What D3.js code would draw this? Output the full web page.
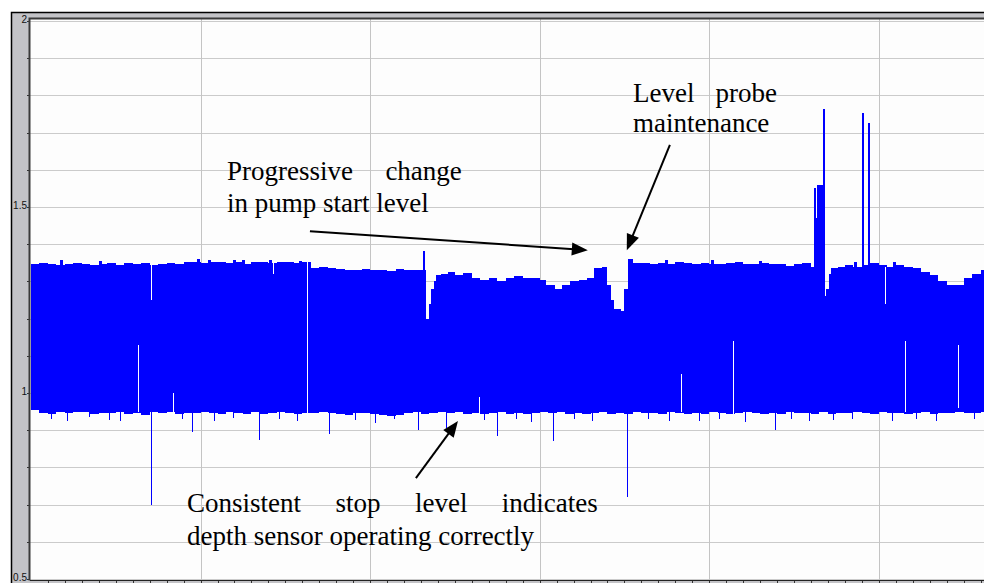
<!DOCTYPE html>
<html>
<head>
<meta charset="utf-8">
<script src="https://cdn.jsdelivr.net/npm/d3@7"></script>
<style>
  body { margin: 0; background: #fff; }
  svg { display: block; }
</style>
</head>
<body>
<div id="chart"></div>
<script>
// y axis: a tick every 0.1, labels only on the half units
var yTicks = [0.5, 0.6, 0.7, 0.8, 0.9, 1.0, 1.1, 1.2, 1.3, 1.4, 1.5, 1.6, 1.7, 1.8, 1.9, 2.0];
var yLabelValues = [0.5, 1.0, 1.5, 2.0];
var yLabelText = ["0.5", "1", "1.5", "2"];

// x axis (time, no labels): grid every 10, minor tick every 1
var xGrid = [10, 20, 30, 40, 50];
var xMinor = [1,2,3,4,5,6,7,8,9,11,12,13,14,15,16,17,18,19,21,22,23,24,25,26,27,28,29,
  31,32,33,34,35,36,37,38,39,41,42,43,44,45,46,47,48,49,51,52,53,54,55,56];

// pump start level (upper edge of the band)
var topT = [0,0.5,1,1.5,2,2.5,3,3.5,4,4.5,5,5.5,6,6.5,7,7.5,8,8.5,9,9.5,
  10,10.5,11,11.5,12,12.5,13,13.5,14,14.5,15,15.5,16,16.5,17,17.5,18,18.5,19,19.5,
  20,20.5,21,21.5,22,22.5,
  23.1,23.3,23.45,23.6,23.75,23.9,24.2,24.6,25,25.5,26,26.5,27,27.5,28,28.5,29,29.5,
  30,30.4,30.9,31.3,31.8,32.3,32.8,33.2,33.7,34.0,34.2,34.4,34.8,35.0,35.2,35.5,
  36,36.5,37,37.5,38,38.5,39,39.5,40,40.5,41,41.5,42,42.5,43,43.5,44,44.5,45,45.5,46,
  46.2,46.35,46.8,46.9,47.05,47.2,47.6,48,48.5,49,49.5,50,50.5,51,51.5,52,52.5,53,53.5,
  54,54.5,55,55.5,56,56.5];
var topLevel = [1.348,1.35,1.348,1.345,1.348,1.35,1.348,1.345,1.348,1.35,
  1.345,1.35,1.348,1.35,1.345,1.348,1.35,1.348,1.352,1.352,
  1.35,1.352,1.352,1.35,1.352,1.348,1.352,1.352,1.35,1.352,
  1.352,1.35,1.352,1.337,1.338,1.337,1.332,1.33,1.33,1.332,
  1.33,1.33,1.328,1.332,1.33,1.33,
  1.33,1.20,1.24,1.28,1.30,1.318,1.32,1.325,1.318,1.322,
  1.31,1.305,1.31,1.302,1.31,1.315,1.308,1.31,1.305,1.29,
  1.28,1.29,1.30,1.305,1.31,1.335,1.338,1.29,1.25,1.225,
  1.22,1.28,1.36,1.35,
  1.35,1.348,1.35,1.348,1.352,1.35,1.348,1.35,1.348,1.346,
  1.35,1.352,1.348,1.346,1.35,1.348,1.346,1.342,1.346,1.35,1.34,
  1.55,1.56,1.26,1.28,1.32,1.335,1.34,1.345,1.34,1.345,
  1.35,1.345,1.34,1.345,1.338,1.335,1.325,1.318,1.30,1.29,
  1.29,1.31,1.32,1.33,1.33];

// short readings just above the start level
var topTeethT = [1.8, 4.1, 9.9, 10.5, 12.0, 12.56, 14.1, 15.9, 37.5, 40.2, 43.0, 48.6, 50.9];
var topTeethV = [1.358, 1.355, 1.36, 1.358, 1.358, 1.358, 1.358, 1.356, 1.358, 1.358, 1.356, 1.352, 1.352];

// pump stop level (lower edge of the band), one reading per half unit from t = 0
var bottomStep = 0.5;
var bottomLevel = [0.955,0.946,0.944,0.948,0.945,0.948,0.95,0.944,0.946,0.945,
  0.95,0.944,0.946,0.942,0.948,0.946,0.95,0.944,0.946,0.945,
  0.948,0.946,0.944,0.95,0.946,0.944,0.948,0.944,0.946,0.95,
  0.946,0.944,0.946,0.945,0.95,0.946,0.944,0.942,0.945,0.946,
  0.944,0.94,0.938,0.942,0.946,0.948,0.944,0.946,0.95,0.946,
  0.948,0.944,0.946,0.944,0.946,0.948,0.944,0.946,0.944,0.946,
  0.948,0.946,0.95,0.944,0.946,0.944,0.946,0.948,0.944,0.946,
  0.944,0.948,0.946,0.946,0.944,0.95,0.946,0.944,0.946,0.944,
  0.948,0.946,0.944,0.946,0.95,0.946,0.944,0.946,0.944,0.948,
  0.946,0.946,0.944,0.948,0.944,0.946,0.946,0.95,0.946,0.944,
  0.948,0.946,0.946,0.944,0.946,0.948,0.944,0.946,0.946,0.95,
  0.946,0.946,0.948,0.946];

// short gaps inside the band (white)
var gapT    = [6.3, 7.08, 8.4, 14.27, 16.3, 26.4, 38.33, 41.39, 46.3, 50.35, 51.53, 54.66];
var gapHigh = [1.13, 1.35, 1.0, 1.352, 1.352, 0.99, 1.05, 1.14, 1.55, 1.34, 1.14, 1.13];
var gapLow  = [0.95, 1.25, 0.94, 1.32, 0.93, 0.94, 0.95, 0.94, 1.47, 1.24, 0.95, 0.96];

// single readings well above the start level
var spikeUpT = [23.2, 46.76, 49.08, 49.42];
var spikeUpV = [1.382, 1.763, 1.753, 1.725];

// single readings below the stop level
var spikeDownT = [1.2, 2.1, 3.4, 4.6, 5.25, 7.1, 8.9, 9.5, 10.8, 11.9, 13.44, 14.6, 15.7, 17.6,
  19.1, 20.3, 21.4, 22.8, 24.5, 26.7, 27.5, 28.6, 29.5, 30.8, 32.0, 33.1, 35.14, 36.4, 37.6,
  39.4, 40.6, 42.1, 43.9, 44.8, 45.9, 47.3, 48.4, 50.8, 52.2, 53.4, 55.6];
var spikeDownV = [0.93, 0.925, 0.935, 0.928, 0.925, 0.70, 0.93, 0.895, 0.925, 0.932, 0.875, 0.93,
  0.925, 0.89, 0.928, 0.92, 0.93, 0.9, 0.905, 0.928, 0.885, 0.93, 0.922, 0.872, 0.93, 0.925,
  0.72, 0.93, 0.926, 0.925, 0.93, 0.922, 0.9, 0.93, 0.925, 0.928, 0.93, 0.925, 0.93, 0.926, 0.93];

// annotations, anchored in data units
var notes = [
  {lines: [["Progressive", "change"], ["in pump start level"]], t0: 11.56, t1: 25.41, v: 1.573, lh: 32},
  {lines: [["Level", "probe"], ["maintenance"]], t0: 35.5, t1: 43.99, v: 1.782, lh: 30},
  {lines: [["Consistent", "stop", "level", "indicates"], ["depth sensor operating correctly"]], t0: 9.2, t1: 33.43, v: 0.68, lh: 33}
];
var arrows = [
  {t0: 16.45, v0: 1.435, t1: 32.84, v1: 1.384},
  {t0: 37.68, v0: 1.667, t1: 35.14, v1: 1.384},
  {t0: 22.70, v0: 0.771, t1: 25.18, v1: 0.925}
];

var W = 984, H = 583;
var plot = {left: 30, top: 19, right: 1000, bottom: 580};

var svg = d3.select("#chart")
  .append("svg")
    .attr("width", W)
    .attr("height", H);

// outer frame + grey panel
svg.append("rect")
  .attr("x", 11.5).attr("y", 12.5)
  .attr("width", 1000).attr("height", 600)
  .attr("fill", "#c3c3c7")
  .attr("stroke", "#000").attr("stroke-width", 1.5);

svg.append("rect")
  .attr("x", plot.left).attr("y", plot.top)
  .attr("width", plot.right - plot.left).attr("height", plot.bottom - plot.top)
  .attr("fill", "#fdfdfd");

var x = d3.scaleLinear().domain([0, 56.5]).range([31, 989]);
var y = d3.scaleLinear().domain([0.5, 2]).range([579, 21]);

// gridlines
svg.append("g")
  .attr("transform", "translate(" + plot.left + ",0)")
  .call(d3.axisLeft(y).tickValues(yTicks).tickSize(-(plot.right - plot.left)).tickFormat(""))
  .call(g => g.select(".domain").remove())
  .call(g => g.selectAll("line").attr("stroke", "#cbcbcb").attr("shape-rendering", "crispEdges"));

svg.append("g")
  .attr("transform", "translate(0," + plot.bottom + ")")
  .call(d3.axisBottom(x).tickValues(xGrid).tickSize(-(plot.bottom - plot.top)).tickFormat(""))
  .call(g => g.select(".domain").remove())
  .call(g => g.selectAll("line").attr("stroke", "#c4c4c4").attr("shape-rendering", "crispEdges"));

// the band
var topData = topT.map((t, i) => ({t: t, v: topLevel[i]}));
var bottomData = bottomLevel.map((v, i) => ({t: i * bottomStep, v: v}));

var band = svg.append("g").attr("shape-rendering", "crispEdges");

band.append("path")
  .datum(topData)
  .attr("fill", "#0000ff")
  .attr("d", d3.area()
    .x(d => x(d.t))
    .y0(y(1.0))
    .y1(d => y(d.v))
    .curve(d3.curveStepAfter));

band.append("path")
  .datum(bottomData)
  .attr("fill", "#0000ff")
  .attr("d", d3.area()
    .x(d => x(d.t))
    .y0(y(1.05))
    .y1(d => y(d.v))
    .curve(d3.curveStepAfter));

// small teeth on top
band.selectAll(".tooth")
  .data(topTeethT)
  .enter()
  .append("line")
    .attr("class", "tooth")
    .attr("x1", d => x(d))
    .attr("x2", d => x(d))
    .attr("y1", y(1.32))
    .attr("y2", (d, i) => y(topTeethV[i]))
    .attr("stroke", "#0000ff")
    .attr("stroke-width", 3);

// gaps
band.selectAll(".gap")
  .data(gapT)
  .enter()
  .append("line")
    .attr("class", "gap")
    .attr("x1", d => Math.round(x(d)) + 0.5)
    .attr("x2", d => Math.round(x(d)) + 0.5)
    .attr("y1", (d, i) => y(gapHigh[i]))
    .attr("y2", (d, i) => y(gapLow[i]))
    .attr("stroke", "#fff")
    .attr("stroke-width", 1.2);

// spikes
band.selectAll(".up")
  .data(spikeUpT)
  .enter()
  .append("line")
    .attr("class", "up")
    .attr("x1", d => x(d))
    .attr("x2", d => x(d))
    .attr("y1", y(1.3))
    .attr("y2", (d, i) => y(spikeUpV[i]))
    .attr("stroke", "#0000ff")
    .attr("stroke-width", 2);

band.selectAll(".down")
  .data(spikeDownT)
  .enter()
  .append("line")
    .attr("class", "down")
    .attr("x1", d => Math.round(x(d)) + 0.5)
    .attr("x2", d => Math.round(x(d)) + 0.5)
    .attr("y1", y(0.96))
    .attr("y2", (d, i) => y(spikeDownV[i]))
    .attr("stroke", "#0000ff")
    .attr("stroke-width", 1);

// y ticks + labels
svg.append("g")
  .attr("transform", "translate(" + plot.left + ",0)")
  .call(d3.axisLeft(y).tickValues(yTicks).tickSize(3).tickFormat(""))
  .call(g => g.select(".domain").remove())
  .call(g => g.selectAll("line").attr("stroke", "#333").attr("shape-rendering", "crispEdges"));

svg.append("g")
  .selectAll("text")
  .data(yLabelValues)
  .enter()
  .append("text")
    .attr("x", 27)
    .attr("y", d => y(d) + 2)
    .attr("text-anchor", "end")
    .style("font-family", "'Liberation Sans', Arial, sans-serif")
    .style("font-size", "10px")
    .attr("fill", "#111")
    .text((d, i) => yLabelText[i]);

// bottom minor ticks
svg.append("g")
  .attr("transform", "translate(0," + plot.bottom + ")")
  .call(d3.axisBottom(x).tickValues(xMinor.concat(xGrid)).tickSize(3).tickFormat(""))
  .call(g => g.select(".domain").remove())
  .call(g => g.selectAll("line").attr("stroke", "#333").attr("shape-rendering", "crispEdges"));

// plot border (left, top, bottom)
svg.append("path")
  .attr("d", "M" + (plot.left - 0.5) + "," + (plot.bottom + 0.5) + "V" + (plot.top - 0.5) + "H" + W)
  .attr("fill", "none").attr("stroke", "#3a3a3a").attr("stroke-width", 2);
svg.append("line")
  .attr("x1", plot.left).attr("x2", W)
  .attr("y1", plot.bottom + 0.5).attr("y2", plot.bottom + 0.5)
  .attr("stroke", "#222");

// annotations
var ann = svg.append("g")
  .style("font-family", "'Liberation Serif', 'Times New Roman', serif")
  .style("font-size", "27px")
  .attr("fill", "#000");

notes.forEach(function(n) {
  var x0 = x(n.t0), x1 = x(n.t1), base = y(n.v);
  n.lines.forEach(function(words, li) {
    var yy = base + li * n.lh;
    var nodes = words.map(w => ann.append("text").attr("y", yy).text(w));
    if (nodes.length == 1) { nodes[0].attr("x", x0); return; }
    var widths = nodes.map(s => s.node().getComputedTextLength());
    var gap = (x1 - x0 - d3.sum(widths)) / (words.length - 1);
    var cx = x0;
    nodes.forEach(function(s, i) { s.attr("x", cx); cx += widths[i] + gap; });
  });
});

arrows.forEach(function(a) {
  var sx = x(a.t0), sy = y(a.v0), ex = x(a.t1), ey = y(a.v1);
  var ang = Math.atan2(ey - sy, ex - sx);
  var len = 16, half = 6.5;
  var bx = ex - len * Math.cos(ang), by = ey - len * Math.sin(ang);
  ann.append("line")
    .attr("x1", sx).attr("y1", sy).attr("x2", bx + 2 * Math.cos(ang)).attr("y2", by + 2 * Math.sin(ang))
    .attr("stroke", "#000").attr("stroke-width", 2);
  ann.append("path")
    .attr("d", "M" + ex + "," + ey +
      "L" + (bx + half * Math.sin(ang)) + "," + (by - half * Math.cos(ang)) +
      "L" + (bx - half * Math.sin(ang)) + "," + (by + half * Math.cos(ang)) + "Z")
    .attr("fill", "#000");
});
</script>
</body>
</html>
